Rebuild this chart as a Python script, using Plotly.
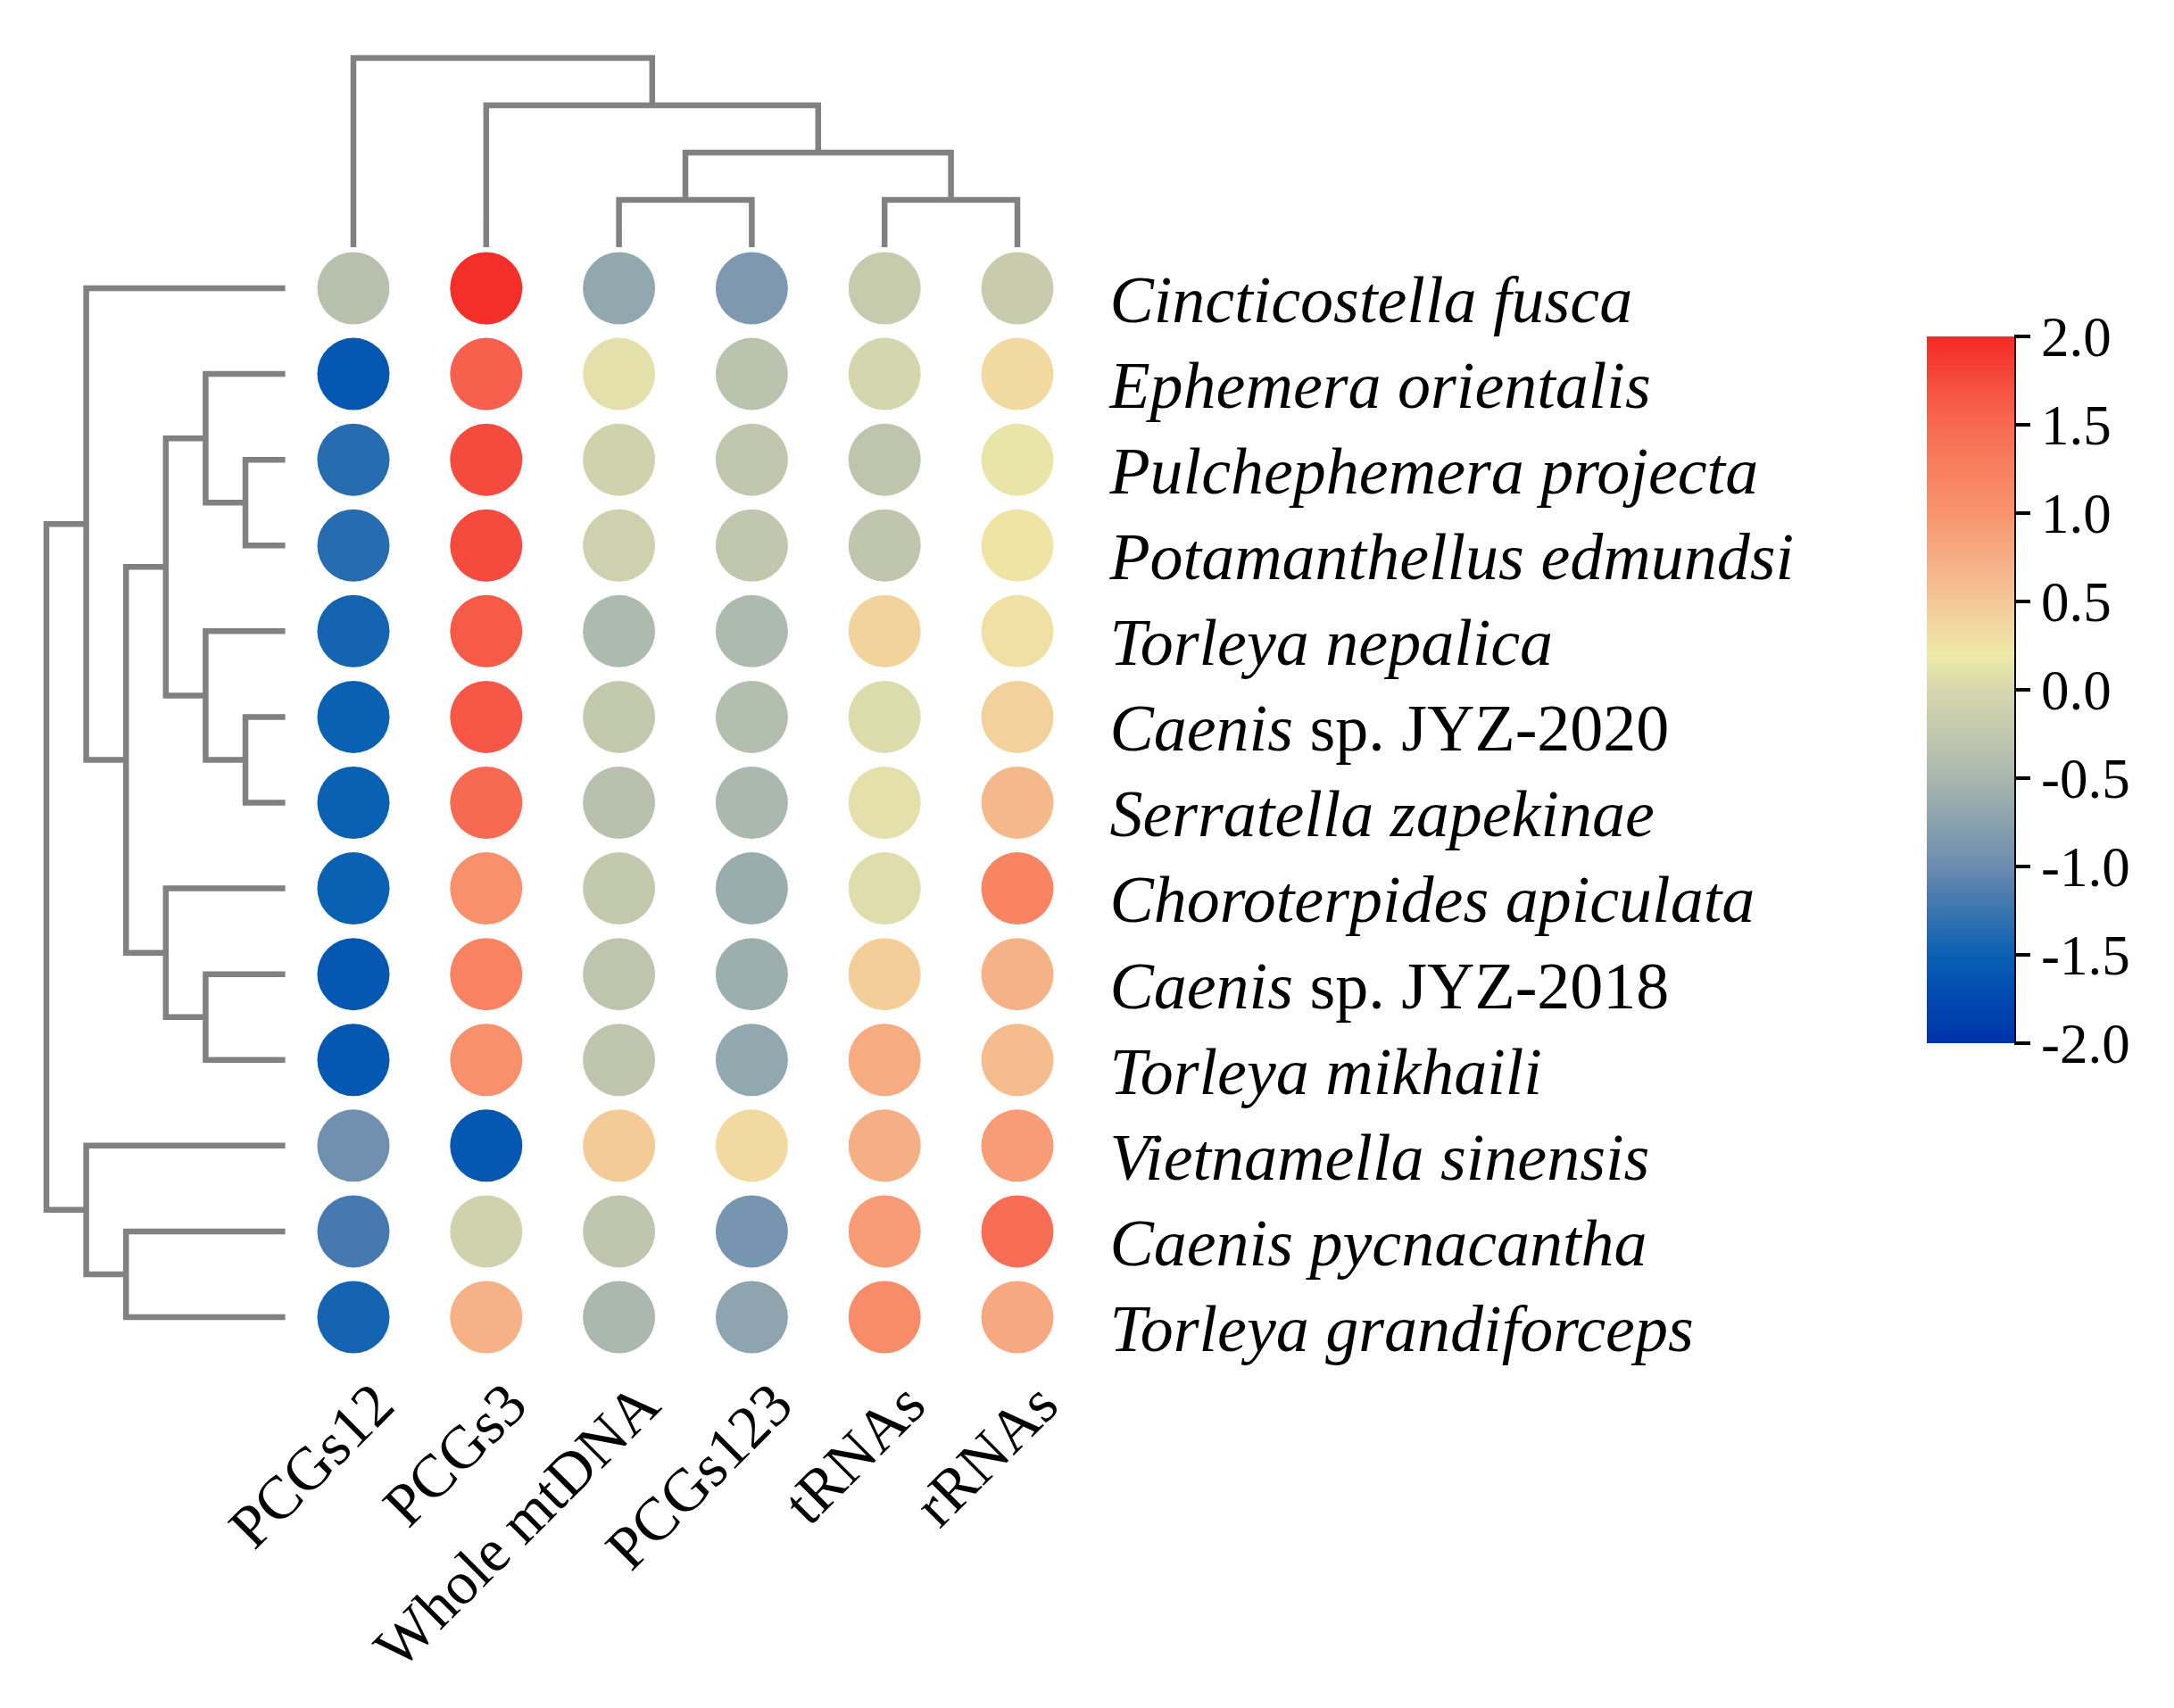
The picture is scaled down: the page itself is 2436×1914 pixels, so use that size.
import plotly.graph_objects as go

# ---------------- data ----------------
species = [
    "<i>Cincticostella fusca</i>",
    "<i>Ephemera orientalis</i>",
    "<i>Pulchephemera projecta</i>",
    "<i>Potamanthellus edmundsi</i>",
    "<i>Torleya nepalica</i>",
    "<i>Caenis</i> sp. JYZ-2020",
    "<i>Serratella zapekinae</i>",
    "<i>Choroterpides apiculata</i>",
    "<i>Caenis</i> sp. JYZ-2018",
    "<i>Torleya mikhaili</i>",
    "<i>Vietnamella sinensis</i>",
    "<i>Caenis pycnacantha</i>",
    "<i>Torleya grandiforceps</i>",
]
regions = ["PCGs12", "PCGs3", "Whole mtDNA", "PCGs123", "tRNAs", "rRNAs"]

pcgs12 = [-0.35, -1.60, -1.35, -1.35, -1.45, -1.50, -1.50, -1.50, -1.60, -1.60, -0.95, -1.20, -1.45]
pcgs3 = [1.97, 1.58, 1.75, 1.75, 1.62, 1.65, 1.50, 1.05, 1.22, 1.05, -1.60, -0.08, 0.72]
whole_mtdna = [-0.68, 0.10, -0.08, -0.10, -0.45, -0.24, -0.35, -0.24, -0.30, -0.28, 0.48, -0.28, -0.48]
pcgs123 = [-0.85, -0.33, -0.27, -0.27, -0.45, -0.40, -0.48, -0.62, -0.60, -0.68, 0.35, -0.90, -0.72]
trnas = [-0.20, -0.02, -0.30, -0.28, 0.40, 0.05, 0.10, 0.07, 0.45, 0.78, 0.75, 0.92, 1.10]
rrnas = [-0.18, 0.35, 0.15, 0.25, 0.28, 0.42, 0.65, 1.20, 0.72, 0.62, 0.92, 1.45, 0.80]
columns = [pcgs12, pcgs3, whole_mtdna, pcgs123, trnas, rrnas]

# linkage (scipy-like: child a, child b, height); ids >= n are earlier merges
row_linkage = [
    (2, 3, 1), (5, 6, 1), (1, 13, 2), (4, 14, 2), (8, 9, 2), (15, 16, 3),
    (7, 17, 3), (18, 19, 4), (11, 12, 4), (0, 20, 5), (10, 21, 5), (22, 23, 6),
]
col_linkage = [(2, 3, 1), (4, 5, 1), (6, 7, 2), (1, 8, 3), (0, 9, 4)]

ticks_cb = [-2.0, -1.5, -1.0, -0.5, 0.0, 0.5, 1.0, 1.5, 2.0]

colorscale = [
    [0.0000, "#0033AA"],
    [0.0625, "#0049AF"],
    [0.1250, "#0A60B2"],
    [0.1875, "#3B74AF"],
    [0.2500, "#6B8CB0"],
    [0.3125, "#8AA2AF"],
    [0.3750, "#A8B7AE"],
    [0.4375, "#C2C8AD"],
    [0.5000, "#D6D7AD"],
    [0.5500, "#EFE9A8"],
    [0.6250, "#F4C895"],
    [0.6875, "#F6AE84"],
    [0.7500, "#F8946F"],
    [0.8125, "#F8805F"],
    [0.8750, "#F76A52"],
    [0.9375, "#F54B3E"],
    [1.0000, "#F42A25"],
]


def dendro_segments(n, linkage):
    pos = {i: float(i) for i in range(n)}
    ht = {i: 0.0 for i in range(n)}
    p_list, h_list = [], []
    for k, (a, b, h) in enumerate(linkage):
        p_list += [pos[a], pos[a], pos[b], pos[b], None]
        h_list += [ht[a], h, h, ht[b], None]
        pos[n + k] = (pos[a] + pos[b]) / 2
        ht[n + k] = h
    return p_list, h_list


PAGE_W, PAGE_H = 2436, 1914
OFF = 8  # default page body margin
W, H = PAGE_W - 2 * OFF, PAGE_H - 2 * OFF
FONT = "Liberation Serif, Times New Roman, serif"


def fx(px):
    return (px - OFF) / W


def fy(px):
    return 1 - (px - OFF) / H


xs, ys, cs = [], [], []
for j, col in enumerate(columns):
    for i, v in enumerate(col):
        xs.append(j)
        ys.append(i)
        cs.append(v)

fig = go.Figure()

fig.add_trace(go.Scatter(
    x=xs, y=ys, mode="markers", xaxis="x", yaxis="y",
    marker=dict(
        size=81, color=cs, colorscale=colorscale, cmin=-2, cmax=2,
        line=dict(width=0),
        showscale=True,
        colorbar=dict(
            lenmode="pixels", len=792, thicknessmode="pixels", thickness=98,
            x=fx(2159), xanchor="left", y=fy(773), yanchor="middle",
            xpad=0, ypad=0, outlinewidth=0,
            ticks="outside", ticklen=18, tickwidth=4, tickcolor="black",
            tickvals=ticks_cb, ticktext=[f"{t:.1f}" for t in ticks_cb],
            tickfont=dict(family=FONT, size=63, color="black"),
        ),
    ),
    hoverinfo="skip", showlegend=False,
))

# top (column) dendrogram
cp, chh = dendro_segments(len(regions), col_linkage)
fig.add_trace(go.Scatter(
    x=cp, y=chh, mode="lines", xaxis="x2", yaxis="y2",
    line=dict(color="#818181", width=6.5), hoverinfo="skip", showlegend=False,
))

# left (row) dendrogram
rp, rh = dendro_segments(len(species), row_linkage)
fig.add_trace(go.Scatter(
    x=rh, y=rp, mode="lines", xaxis="x3", yaxis="y3",
    line=dict(color="#818181", width=6.5), hoverinfo="skip", showlegend=False,
))

xdom = [fx(321.6), fx(1214.4)]
ydom = [fy(1524.0), fy(275.0)]

fig.update_layout(
    width=W, height=H,
    margin=dict(l=0, r=0, t=0, b=0, pad=0, autoexpand=False),
    paper_bgcolor="white", plot_bgcolor="rgba(0,0,0,0)",
    font=dict(family=FONT, color="black"),
    xaxis=dict(
        domain=xdom, range=[-0.5, 5.5], anchor="y", automargin=False,
        tickmode="array", tickvals=list(range(len(regions))), ticktext=regions,
        tickangle=-45, tickfont=dict(family=FONT, size=68, color="black"),
        ticks="", showgrid=False, zeroline=False, showline=False,
        ticklabelstandoff=-5, ticklabelshift=25,
    ),
    yaxis=dict(
        domain=ydom, range=[len(species) - 0.5, -0.5], anchor="x", side="right",
        automargin=False,
        tickmode="array", tickvals=list(range(len(species))), ticktext=species,
        tickfont=dict(family=FONT, size=74, color="black"),
        ticks="", showgrid=False, zeroline=False, showline=False,
        ticklabelstandoff=28, ticklabelshift=-12,
    ),
    xaxis2=dict(
        domain=xdom, range=[-0.5, 5.5], anchor="y2", visible=False, automargin=False,
    ),
    yaxis2=dict(
        domain=[fy(282.0), fy(40.0)], range=[-0.0943, 4.4717],
        anchor="x2", visible=False, automargin=False,
    ),
    xaxis3=dict(
        domain=[fx(30.0), fx(330.0)], range=[6.4933, -0.2332],
        anchor="y3", visible=False, automargin=False,
    ),
    yaxis3=dict(
        domain=ydom, range=[len(species) - 0.5, -0.5], anchor="x3", visible=False,
        automargin=False,
    ),
    shapes=[dict(
        type="line", xref="paper", yref="paper",
        x0=fx(2257), x1=fx(2257), y0=fy(377), y1=fy(1169),
        line=dict(color="black", width=4),
    )],
)

fig.write_html("out.html")
